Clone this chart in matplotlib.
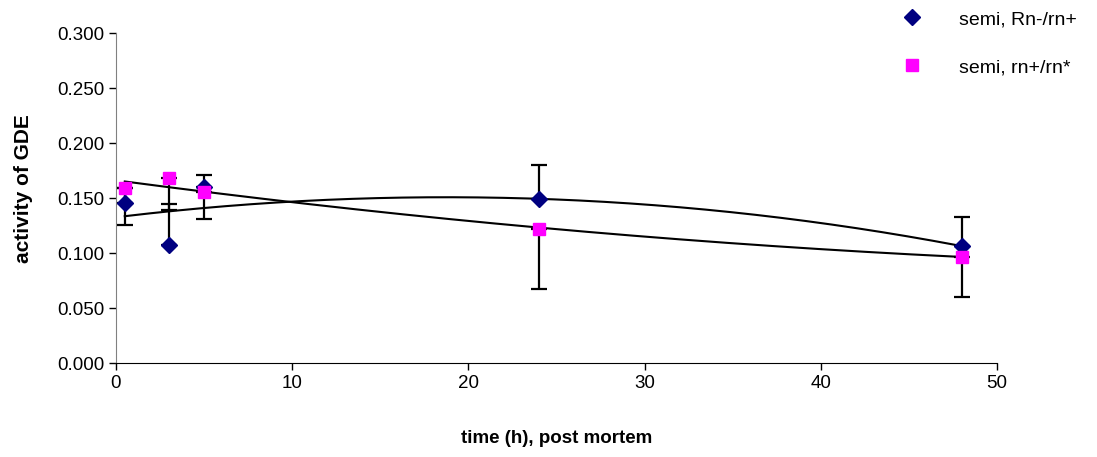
import numpy as np
import matplotlib
matplotlib.use("Agg")
import matplotlib.pyplot as plt

plt.rcParams['font.family'] = ['Liberation Sans', 'DejaVu Sans']

# temps post mortem (h)
time_h = [0.5, 3, 5, 24, 48]

# série 1 : semi, Rn-/rn+ (barres d'erreur vers le haut)
rn_minus = [0.1455, 0.1075, 0.1605, 0.149, 0.1066]
rn_minus_err_up = [0.014, 0.037, 0.0105, 0.031, 0.0265]

# série 2 : semi, rn+/rn* (barres d'erreur vers le bas)
rn_plus = [0.159, 0.168, 0.1555, 0.122, 0.097]
rn_plus_err_down = [0.033, 0.029, 0.0245, 0.0545, 0.037]

fig = plt.figure(figsize=(10.97, 4.57), dpi=100)
ax = fig.add_axes([0.1057, 0.2050, 0.8031, 0.7222])

# courbes de tendance polynomiales (ordre 2)
xs = np.linspace(min(time_h), max(time_h), 200)
for ys in (rn_minus, rn_plus):
    coef = np.polyfit(time_h, ys, 2)
    ax.plot(xs, np.polyval(coef, xs), color='black', lw=1.5, zorder=2)

ax.errorbar(time_h, rn_minus, yerr=[np.zeros(5), rn_minus_err_up], fmt='none',
            ecolor='black', elinewidth=1.6, capsize=6, capthick=1.6, zorder=3)
ax.errorbar(time_h, rn_plus, yerr=[rn_plus_err_down, np.zeros(5)], fmt='none',
            ecolor='black', elinewidth=1.6, capsize=6, capthick=1.6, zorder=3)

ax.plot(time_h, rn_minus, linestyle='none', marker='D', color='#000080',
        markersize=8, label='semi, Rn-/rn+', zorder=4)
ax.plot(time_h, rn_plus, linestyle='none', marker='s', color='#FF00FF',
        markersize=8, label='semi, rn+/rn*', zorder=4)

ax.set_xlim(0, 50)
ax.set_ylim(0, 0.3)
ax.set_xticks([0, 10, 20, 30, 40, 50])
ax.set_yticks(np.arange(0, 0.301, 0.05))
ax.set_yticklabels([f"{v:.3f}" for v in np.arange(0, 0.301, 0.05)])
ax.tick_params(labelsize=13.5, length=5, width=1, direction='out')

for s in ('top', 'right'):
    ax.spines[s].set_visible(False)
ax.spines['left'].set_color('#808080')
ax.spines['bottom'].set_color('black')

ax.set_xlabel("time (h), post mortem", fontsize=13.5, fontweight='bold', labelpad=27)
ax.set_ylabel("activity of GDE", fontsize=15, fontweight='bold')
ax.yaxis.set_label_coords(-0.094, 0.53)

ax.legend(loc='upper left', bbox_to_anchor=(0.798, 1.015), bbox_transform=fig.transFigure,
          frameon=False, fontsize=14, labelspacing=1.55, handletextpad=1.4, numpoints=1)

fig.savefig("out.png", dpi=100)
